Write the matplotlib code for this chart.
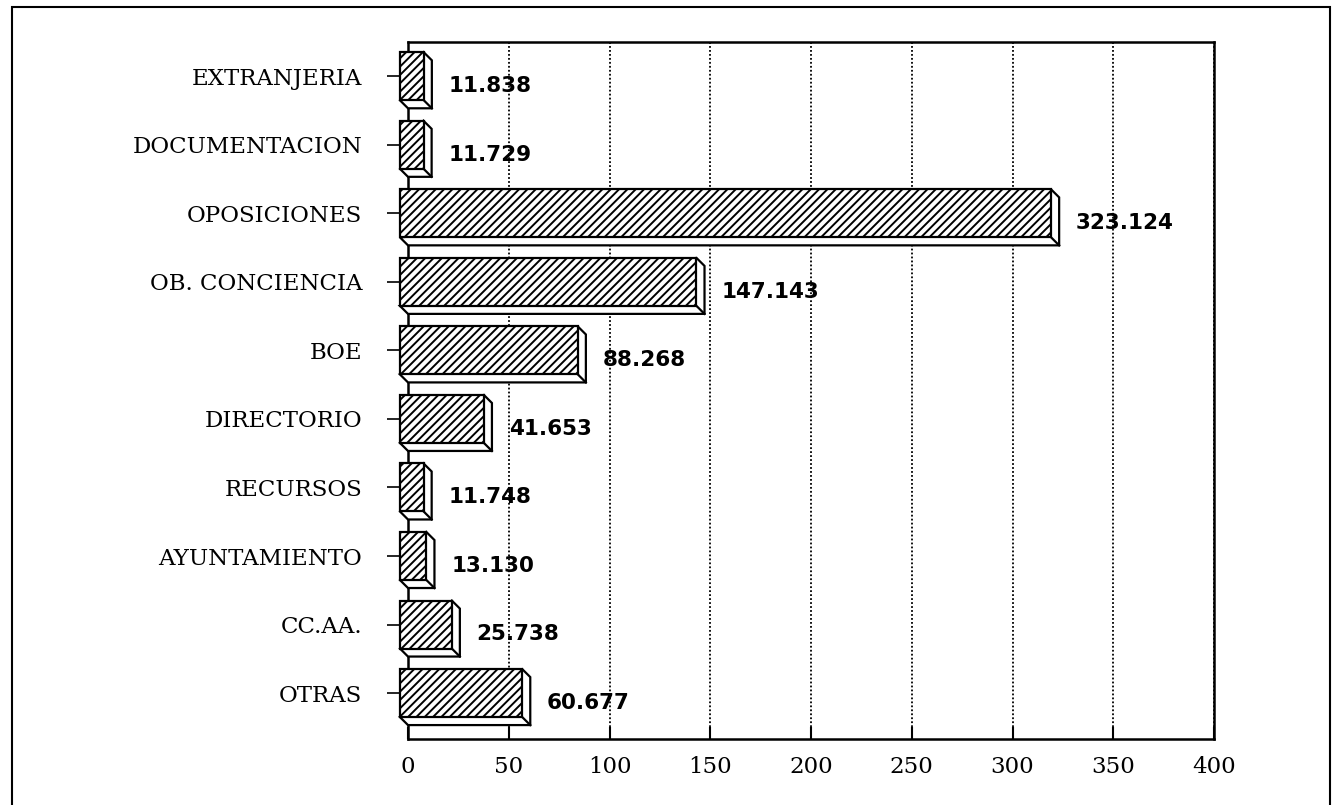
import numpy as np
import matplotlib.pyplot as plt
from matplotlib.patches import Polygon, Rectangle

# datos (miles)
categorias = ['EXTRANJERIA', 'DOCUMENTACION', 'OPOSICIONES', 'OB. CONCIENCIA', 'BOE',
              'DIRECTORIO', 'RECURSOS', 'AYUNTAMIENTO', 'CC.AA.', 'OTRAS']
valores = [11.838, 11.729, 323.124, 147.143, 88.268, 41.653, 11.748, 13.130, 25.738, 60.677]
etiquetas = ['11.838', '11.729', '323.124', '147.143', '88.268',
             '41.653', '11.748', '13.130', '25.738', '60.677']
xticks = [0, 50, 100, 150, 200, 250, 300, 350, 400]

plt.rcParams['hatch.linewidth'] = 1.4

fig = plt.figure(figsize=(13.39, 8.05), dpi=100)
ax = fig.add_axes([0.3047, 0.082, 0.602, 0.8658])

pos = np.arange(len(categorias))[::-1]
h = 0.70     # alto de la cara frontal
dx = 4.0     # profundidad 3D en x (datos)
dy = 0.117   # profundidad 3D en y (datos)

# caras laterales / inferiores
for y, v in zip(pos, valores):
    top = y + h / 2
    bot = y - h / 2
    lado = Polygon([(v - dx, top), (v, top - dy), (v, bot - dy), (0, bot - dy), (-dx, bot)],
                   closed=True, facecolor='white', edgecolor='black', lw=1.6,
                   zorder=2.8, clip_on=False)
    ax.add_patch(lado)
    ax.plot([v - dx, v], [bot, bot - dy], color='black', lw=1.6, zorder=2.9, clip_on=False)

# cara frontal rayada
barras = ax.barh(pos, valores, height=h, left=-dx, color='white', edgecolor='black',
                 hatch='////', lw=1.6, zorder=3, clip_on=False)

for y, v, t in zip(pos, valores, etiquetas):
    ax.annotate(t, (v, y), xytext=(12, -7), textcoords='offset points',
                ha='left', va='center', fontsize=15.5, fontweight='bold',
                family='DejaVu Sans')

ax.set_xlim(0, 400)
ax.set_ylim(-0.67, 9.5)
ax.set_xticks(xticks)
ax.set_xticklabels([str(x) for x in xticks], family='DejaVu Serif', fontsize=16.5)
ax.set_yticks(pos)
ax.set_yticklabels(categorias, family='DejaVu Serif', fontsize=16.5)

ax.tick_params(axis='x', direction='in', length=9, width=1.5, pad=12)
ax.tick_params(axis='y', direction='out', length=15, width=1.2, pad=18)
ax.yaxis.set_zorder(4)

ax.grid(axis='x', color='black', linestyle=(0, (1, 1.2)), linewidth=1.3)
ax.set_axisbelow(True)
for s in ax.spines.values():
    s.set_linewidth(1.8)

# marco exterior
fig.add_artist(Rectangle((12 / 1339, -0.01), (1330 - 12) / 1339, 1.0013,
                         transform=fig.transFigure, fill=False, lw=1.5, color='black'))

fig.savefig('out.png', dpi=100)
